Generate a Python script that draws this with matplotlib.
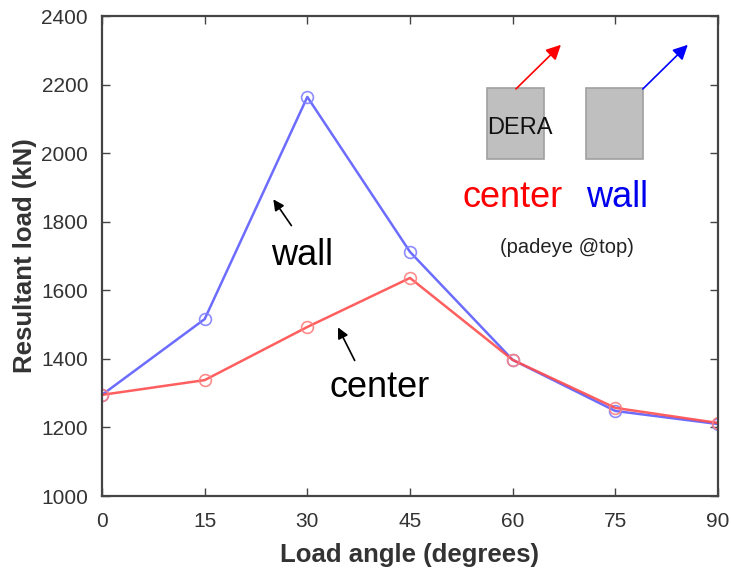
import matplotlib.pyplot as plt
from matplotlib.patches import Rectangle

plt.rcParams['font.family'] = ['Liberation Sans', 'DejaVu Sans']

# load angle (degrees) and resultant load (kN)
angles = [0, 15, 30, 45, 60, 75, 90]
wall_load = [1295, 1516, 2164, 1712, 1397, 1248, 1210]
center_load = [1295, 1338, 1493, 1636, 1397, 1257, 1213]

x_ticks = [0, 15, 30, 45, 60, 75, 90]
y_ticks = [1000, 1200, 1400, 1600, 1800, 2000, 2200, 2400]

fig = plt.figure(figsize=(7.31, 5.70), dpi=100)
ax = fig.add_axes([102/731, 1 - 496/570, 616/731, 480/570])

ax.plot(angles, wall_load, color='#5c5cff', lw=1.8, marker='o', ms=8.5,
        mfc='none', mec='#8080ff', mew=1.2, alpha=0.9)
ax.plot(angles, center_load, color='#ff4d4d', lw=1.8, marker='o', ms=8.5,
        mfc='none', mec='#ff8080', mew=1.2, alpha=0.9)

ax.set_xlim(0, 90)
ax.set_ylim(1000, 2400)
ax.set_xticks(x_ticks)
ax.set_yticks(y_ticks)
ax.tick_params(direction='in', length=6, width=1, color='#444444',
               labelcolor='#333333', labelsize=15, top=True, right=True)
ax.tick_params(axis='x', pad=11.5)
ax.tick_params(axis='y', pad=10)
for s in ax.spines.values():
    s.set_color('#444444')
    s.set_linewidth(1.6)

ax.set_xlabel('Load angle (degrees)', fontsize=18.5, fontweight='bold',
              color='#333333', labelpad=9)
ax.set_ylabel('Resultant load (kN)', fontsize=18.5, fontweight='bold',
              color='#333333', labelpad=3)

# curve labels with arrows
ax.annotate('', xy=(24.8, 1872), xytext=(27.9, 1782),
            arrowprops=dict(arrowstyle='-|>', color='black', lw=1.2, mutation_scale=16))
ax.text(24.7, 1674, 'wall', fontsize=26, color='black', ha='left', va='baseline')
ax.annotate('', xy=(34.3, 1499), xytext=(37.1, 1388),
            arrowprops=dict(arrowstyle='-|>', color='black', lw=1.2, mutation_scale=16))
ax.text(33.2, 1289, 'center', fontsize=26, color='black', ha='left', va='baseline')

# padeye position sketch
tr = ax.transAxes
ax.add_patch(Rectangle((0.625, 0.702), 0.0925, 0.148, transform=tr,
                       facecolor='#bfbfbf', edgecolor='#a0a0a0', lw=1.2))
ax.add_patch(Rectangle((0.7857, 0.702), 0.0925, 0.148, transform=tr,
                       facecolor='#bfbfbf', edgecolor='#a0a0a0', lw=1.2))
ax.annotate('', xy=(0.745, 0.940), xytext=(0.672, 0.848), xycoords=tr, textcoords=tr,
            arrowprops=dict(arrowstyle='-|>', color='red', lw=1.2, mutation_scale=22,
                            shrinkA=0, shrinkB=0))
ax.annotate('', xy=(0.951, 0.940), xytext=(0.878, 0.848), xycoords=tr, textcoords=tr,
            arrowprops=dict(arrowstyle='-|>', color='blue', lw=1.2, mutation_scale=22,
                            shrinkA=0, shrinkB=0))
ax.text(0.679, 0.767, 'DERA', transform=tr, fontsize=17, color='#111111',
        ha='center', va='center')
ax.text(0.667, 0.602, 'center', transform=tr, fontsize=26, color='#ff0000',
        ha='center', va='baseline')
ax.text(0.836, 0.602, 'wall', transform=tr, fontsize=26, color='#0000ee',
        ha='center', va='baseline')
ax.text(0.755, 0.517, '(padeye @top)', transform=tr, fontsize=14.5, color='#222222',
        ha='center', va='center')

fig.savefig('out.png', dpi=100)
